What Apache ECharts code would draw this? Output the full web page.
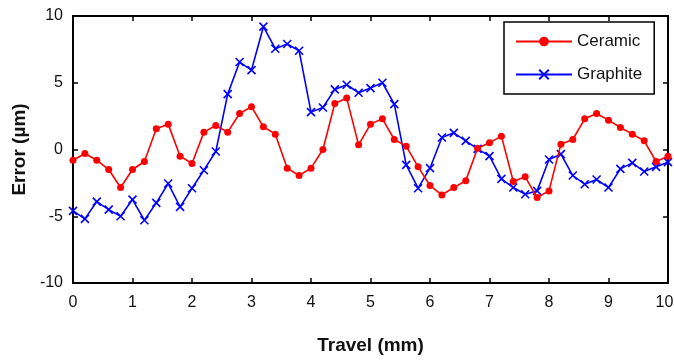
<!DOCTYPE html>
<html>
<head>
<meta charset="utf-8">
<script src="https://cdn.jsdelivr.net/npm/echarts@6/dist/echarts.min.js"></script>
<style>
  html, body { margin: 0; padding: 0; background: #fff; }
  #chart { width: 674px; height: 360px; }
</style>
</head>
<body>
<div id="chart"></div>
<script>
// travel positions (mm)
var travel = [0, 0.2, 0.4, 0.6, 0.8, 1, 1.2, 1.4, 1.6, 1.8, 2, 2.2, 2.4, 2.6, 2.8, 3, 3.2, 3.4, 3.6, 3.8,
  4, 4.2, 4.4, 4.6, 4.8, 5, 5.2, 5.4, 5.6, 5.8, 6, 6.2, 6.4, 6.6, 6.8, 7, 7.2, 7.4, 7.6, 7.8,
  8, 8.2, 8.4, 8.6, 8.8, 9, 9.2, 9.4, 9.6, 9.8, 10];

var ceramic = [-0.8, -0.3, -0.8, -1.5, -2.85, -1.5, -0.9, 1.55, 1.9, -0.5, -1.05, 1.3, 1.8, 1.3, 2.7, 3.2, 1.7,
  1.15, -1.4, -1.95, -1.4, 0, 3.45, 3.85, 0.35, 1.9, 2.3, 0.75, 0.25, -1.3, -2.7, -3.4,
  -2.85, -2.35, 0.1, 0.5, 1.0, -2.4, -2.05, -3.6, -3.1, 0.4, 0.75, 2.3, 2.7, 2.2, 1.65, 1.15, 0.65, -0.9, -0.5];

var graphite = [-4.6, -5.2, -3.9, -4.5, -5.0, -3.75, -5.3, -4.0, -2.55, -4.3, -2.9, -1.55, -0.15, 4.15, 6.55, 5.95, 9.2,
  7.55, 7.9, 7.4, 2.8, 3.15, 4.5, 4.85, 4.25, 4.6, 5.0, 3.4, -1.15, -2.9, -1.4, 0.9,
  1.25, 0.65, 0.05, -0.5, -2.2, -2.85, -3.35, -3.1, -0.75, -0.35, -1.95, -2.6, -2.25, -2.85, -1.45, -1.0, -1.65, -1.3, -0.95];

function pairs(ys) {
  return travel.map(function (x, i) { return [x, ys[i]]; });
}

var font = '"Liberation Sans Narrow", "Liberation Sans", Arial, sans-serif';
var crossMark = 'path://M0,0L10,10M10,0L0,10';

var chart = echarts.init(document.getElementById('chart'));

function boxAxis(pos, min, max, interval, main) {
  return {
    type: 'value',
    position: pos,
    min: min,
    max: max,
    interval: interval,
    axisLine: { show: true, onZero: false, lineStyle: { color: '#000', width: 2 } },
    axisTick: { show: true, inside: true, length: 5, lineStyle: { color: '#000', width: 1.5 } },
    axisLabel: { show: main, color: '#111', fontFamily: font, fontSize: 16, margin: 12 },
    splitLine: { show: false }
  };
}

var xMain = boxAxis('bottom', 0, 10, 1, true);
xMain.name = 'Travel (mm)';
xMain.nameLocation = 'middle';
xMain.nameGap = 53;
xMain.nameTextStyle = { fontFamily: 'Liberation Sans, Arial', fontWeight: 'bold', fontSize: 19, color: '#111' };
// last label sits at the page edge, nudge it in so it is not cut off
xMain.axisLabel.formatter = function (v) { return v === 10 ? '{e|10}' : String(v); };
xMain.axisLabel.rich = { e: { fontFamily: font, fontSize: 16, color: '#111', padding: [0, 7, 0, 0] } };

var yMain = boxAxis('left', -10, 10, 5, true);
yMain.name = 'Error (\u00b5m)';
yMain.nameLocation = 'middle';
yMain.nameGap = 42;
yMain.nameTextStyle = { fontFamily: 'Liberation Sans, Arial', fontWeight: 'bold', fontSize: 19, color: '#111' };
yMain.axisLabel.margin = 10;

chart.setOption({
  animation: false,
  grid: { left: 73, right: 6, top: 16, bottom: 77, outerBoundsMode: 'none' },
  xAxis: [xMain, boxAxis('top', 0, 10, 1, false)],
  yAxis: [yMain, boxAxis('right', -10, 10, 5, false)],
  legend: {
    orient: 'vertical',
    left: 504,
    top: 22,
    padding: [11, 12, 11, 11],
    itemGap: 16,
    itemWidth: 56,
    itemHeight: 12,
    borderColor: '#000',
    borderWidth: 1.5,
    backgroundColor: '#fff',
    textStyle: { fontFamily: font, fontSize: 17, color: '#111' },
    data: ['Ceramic', 'Graphite']
  },
  series: [
    {
      name: 'Ceramic',
      type: 'line',
      data: pairs(ceramic),
      symbol: 'circle',
      symbolSize: 7,
      lineStyle: { color: '#ff0000', width: 1.6 },
      itemStyle: { color: '#ff0000' },
      z: 3
    },
    {
      name: 'Graphite',
      type: 'line',
      data: pairs(graphite),
      symbol: crossMark,
      symbolSize: 8,
      lineStyle: { color: '#0000ff', width: 1.6 },
      itemStyle: { color: '#0000ff', borderColor: '#0000ff', borderWidth: 1.6 },
      z: 2
    }
  ]
});
</script>
</body>
</html>
